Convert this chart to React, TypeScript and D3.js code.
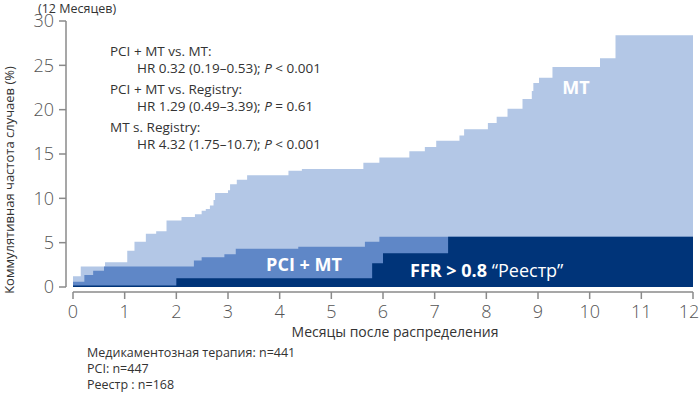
import * as d3 from 'd3';

// months after randomisation / cumulative event rate (%)
const mtTimes = [0, 0.15, 0.62, 1.05, 1.19, 1.41, 1.61, 1.81, 2.1, 2.36, 2.49, 2.57, 2.65, 2.72, 2.75, 3.0, 3.04, 3.17, 3.37, 4.17, 4.43, 5.62, 5.93, 6.51, 6.81, 7.03, 7.48, 7.57, 8.03, 8.2, 8.41, 8.7, 8.88, 8.91, 9.02, 9.28, 10.2, 10.5, 12];
const mtValues = [1.2, 2.3, 2.8, 4.1, 5.1, 6.0, 6.3, 7.5, 7.9, 8.2, 8.6, 8.8, 9.2, 9.8, 10.6, 10.9, 11.6, 12.1, 12.6, 13.1, 13.3, 14.0, 14.6, 15.3, 15.8, 16.5, 17.1, 17.8, 18.5, 19.2, 20.1, 21.2, 22.1, 23.0, 23.6, 24.8, 25.8, 28.4, 28.4];

const pciTimes = [0, 0.22, 0.39, 0.6, 2.34, 2.49, 2.93, 3.15, 4.36, 5.65, 5.93, 12];
const pciValues = [0.6, 1.35, 1.84, 2.3, 3.0, 3.35, 3.7, 4.3, 4.55, 5.1, 5.67, 5.67];

const registryTimes = [0, 2.0, 5.79, 6.0, 7.26, 12];
const registryValues = [0.17, 1.0, 2.67, 3.8, 5.67, 5.67];

const xTicks = [0, 1, 2, 3, 4, 5, 6, 7, 8, 9, 10, 11, 12];
const yTicks = [0, 5, 10, 15, 20, 25, 30];

const statsLines = [
  { head: 'PCI + MT vs. MT:', hr: 'HR 0.32 (0.19–0.53); ', p: '< 0.001' },
  { head: 'PCI + MT vs. Registry:', hr: 'HR 1.29 (0.49–3.39); ', p: '= 0.61' },
  { head: 'MT s. Registry:', hr: 'HR 4.32 (1.75–10.7); ', p: '< 0.001' },
];

const footer = ['Медикаментозная терапия: n=441', 'PCI: n=447', 'Реестр : n=168'];

const font = '"Open Sans", "DejaVu Sans", sans-serif';

export default function App() {
  const width = 700;
  const height = 394;

  const x = d3.scaleLinear().domain([0, 12]).range([73, 693]);
  const y = d3.scaleLinear().domain([0, 30]).range([287, 21]);

  const area = d3.area<[number, number]>()
    .x(d => x(d[0]))
    .y0(y(0))
    .y1(d => y(d[1]))
    .curve(d3.curveStepAfter);

  const zip = (t: number[], v: number[]) => t.map((tt, i) => [tt, v[i]] as [number, number]);

  const axisColor = '#8a8a8a';
  const tickText = '#555';

  return (
    <div style={{ position: 'absolute', left: 0, top: 0 }}>
      <svg width={width} height={height} style={{ display: 'block', fontFamily: font }}>
        <rect width={width} height={height} fill="#fff" />

        <path d={area(zip(mtTimes, mtValues)) || ''} fill="#b3c7e6" />
        <path d={area(zip(pciTimes, pciValues)) || ''} fill="#5f87c7" />
        <path d={area(zip(registryTimes, registryValues)) || ''} fill="#003479" />

        {/* y axis */}
        <line x1={66} x2={66} y1={y(30)} y2={y(0)} stroke={axisColor} strokeWidth={1.5} />
        {yTicks.map(t => (
          <g key={t}>
            <line x1={59} x2={66} y1={y(t)} y2={y(t)} stroke={axisColor} strokeWidth={1.5} />
            <text x={54} y={y(t)} dy="0.36em" textAnchor="end" fontSize={18} fill={tickText} fontWeight={300}>{t}</text>
          </g>
        ))}

        {/* x axis */}
        <line x1={x(0)} x2={x(12)} y1={292} y2={292} stroke={axisColor} strokeWidth={1.5} />
        {xTicks.map(t => (
          <g key={t}>
            <line x1={x(t)} x2={x(t)} y1={292} y2={299} stroke={axisColor} strokeWidth={1.5} />
            <text x={t === 12 ? x(t) - 4 : x(t)} y={318} textAnchor="middle" fontSize={18} fill={tickText} fontWeight={300}>{t}</text>
          </g>
        ))}

        <text x={395} y={337} textAnchor="middle" fontSize={14} fill="#333">Месяцы после распределения</text>
        <text transform="translate(14,180) rotate(-90)" textAnchor="middle" fontSize={13} fill="#333">
          Коммулятивная частота случаев (%)
        </text>
        <text x={38} y={13} fontSize={12.5} fill="#333">(12 Месяцев)</text>

        {statsLines.map((s, i) => (
          <g key={i} fontSize={13.5} fill="#333">
            <text x={110} y={56 + i * 38}>{s.head}</text>
            <text x={137} y={73 + i * 38}>
              {s.hr}<tspan fontStyle="italic">P</tspan> {s.p}
            </text>
          </g>
        ))}

        <text x={576} y={94} textAnchor="middle" fontSize={18} fontWeight={700} fill="#fff">MT</text>
        <text x={304} y={271} textAnchor="middle" fontSize={18} fontWeight={700} fill="#fff">PCI + MT</text>
        <text x={410} y={277} fontSize={18} fill="#fff">
          <tspan fontWeight={700}>FFR &gt; 0.8</tspan> “Реестр”
        </text>

        {footer.map((f, i) => (
          <text key={i} x={87} y={357 + i * 16} fontSize={12.5} fill="#333">{f}</text>
        ))}
      </svg>
    </div>
  );
}
